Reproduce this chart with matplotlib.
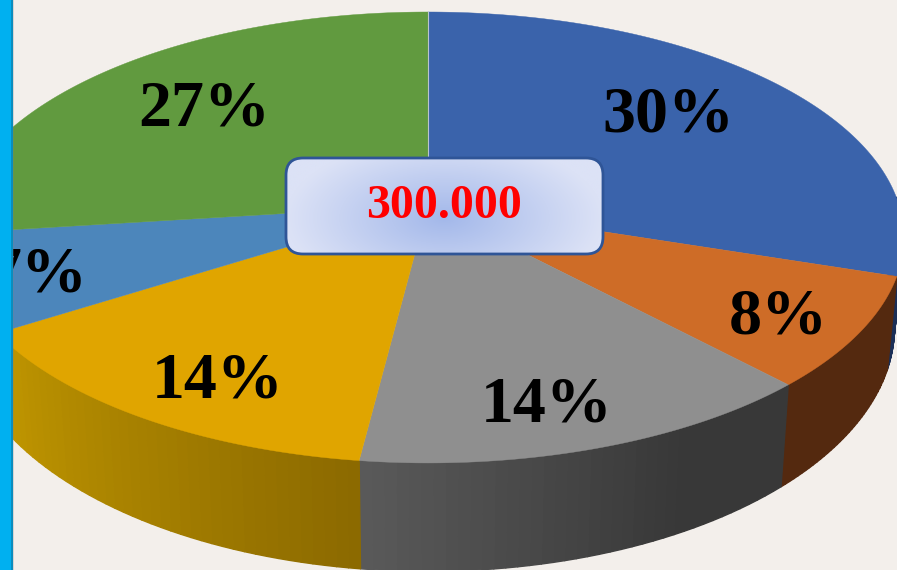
import numpy as np
import matplotlib
matplotlib.use('Agg')
import matplotlib.pyplot as plt
from matplotlib.collections import PolyCollection
from matplotlib.patches import FancyBboxPatch, Rectangle

percents = [30, 8, 14, 14, 7, 27]
top_colors = ['#3A63AB', '#CE6C27', '#8F8F8F', '#E0A500', '#4C86BB', '#619A3F']
# wall colour at start and end of every slice (clockwise)
wall_start = ['#1B2F57', '#54290F', '#383838', '#8C6A00', '#C09600', '#C09600']
wall_end = ['#1B2F57', '#54290F', '#595959', '#C09600', '#C09600', '#C09600']
center_text = '300.000'
label_pos = [(668, 115), (778, 318), (547, 406), (218, 382), (38, 275), (204, 110)]

BG = '#F3EFEB'
W, H = 897, 570

# perspective of the pie plane, pixels
CX, CY = 428, 205
BX, AY, K = 471, 220.8, 0.144


def rim(t):
    u, v = np.sin(t), np.cos(t)
    d = 1 + K * v
    return CX + BX * u / d, CY - AY * v / d


def bottom_rim(t):
    x, y = rim(t)
    return CX + 0.98 * (x - CX), 1.083 * y + 70


def mix(c1, c2, f):
    a = np.array(matplotlib.colors.to_rgb(c1))
    b = np.array(matplotlib.colors.to_rgb(c2))
    return a + (b - a) * f


fig = plt.figure(figsize=(W / 100, H / 100), dpi=100, facecolor=BG)
ax = fig.add_axes([0, 0, 1, 1])
ax.set_xlim(0, W)
ax.set_ylim(H, 0)
ax.axis('off')

edges = np.cumsum([0] + percents) / sum(percents) * 2 * np.pi

# side walls, only the front part of the pie shows one
wall_from, wall_to = np.radians(88), np.radians(272)
for i in range(len(percents)):
    a, b = max(edges[i], wall_from), min(edges[i + 1], wall_to)
    if a >= b:
        continue
    ts = np.linspace(a, b, 40)
    polys, cols = [], []
    for j in range(len(ts) - 1):
        x1, y1 = rim(ts[j:j + 2])
        x2, y2 = bottom_rim(ts[j:j + 2])
        polys.append(list(zip(x1, y1)) + list(zip(x2, y2))[::-1])
        # darkest part of the wall stays flat for the first third
        f = max(0, j / (len(ts) - 2) - 0.3) / 0.7 if i == 2 else j / (len(ts) - 2)
        cols.append(mix(wall_start[i], wall_end[i], f))
    ax.add_collection(PolyCollection(polys, facecolors=cols, edgecolors=cols, linewidths=1.0, zorder=2))

# top of the pie
for i in range(len(percents)):
    ts = np.linspace(edges[i], edges[i + 1], 120)
    x, y = rim(ts)
    ax.fill(np.r_[CX, x], np.r_[CY, y], color=top_colors[i], lw=0.3, zorder=3)

ax.plot([CX, CX], [CY, 12], color='#B9C4CF', lw=0.8, zorder=4)

for p, (x, y) in zip(percents, label_pos):
    ax.text(x, y, f'{p}%', ha='center', va='center', family='Liberation Serif',
            weight='bold', fontsize=47.5, color='black', zorder=5)

# centre box with radial fill
box = FancyBboxPatch((301, 173), 287, 66, boxstyle='round,pad=15,rounding_size=17',
                     fc='none', ec='#2F5597', lw=2, zorder=8)
gx, gy = np.meshgrid(np.linspace(-1, 1, 320), np.linspace(-1, 1, 100))
r = np.clip(np.hypot(gx, (gy - 0.25) * 0.6), 0, 1)
c1 = np.array(matplotlib.colors.to_rgb('#A3B8EA'))
c2 = np.array(matplotlib.colors.to_rgb('#DCE2F6'))
img = c1 + (c2 - c1) * r[..., None]
im = ax.imshow(img, extent=(286, 603, 254, 158), aspect='auto', zorder=7)
ax.add_patch(box)
im.set_clip_path(box)
ax.set_xlim(0, W)
ax.set_ylim(H, 0)
ax.text(444.5, 206, center_text, ha='center', va='center', family='Liberation Serif',
        weight='bold', fontsize=34.5, color='#FF0000', zorder=9)

# left bar
ax.add_patch(Rectangle((12, 0), 2, H, fc='#808080', alpha=0.25, lw=0, zorder=10))
ax.add_patch(Rectangle((0, 0), 12.5, H, fc='#00B0F0', lw=0, zorder=11))
ax.add_patch(Rectangle((10.5, 0), 2, H, fc='#0A8DBE', lw=0, zorder=12))

fig.savefig('out.png', dpi=100, facecolor=BG)
